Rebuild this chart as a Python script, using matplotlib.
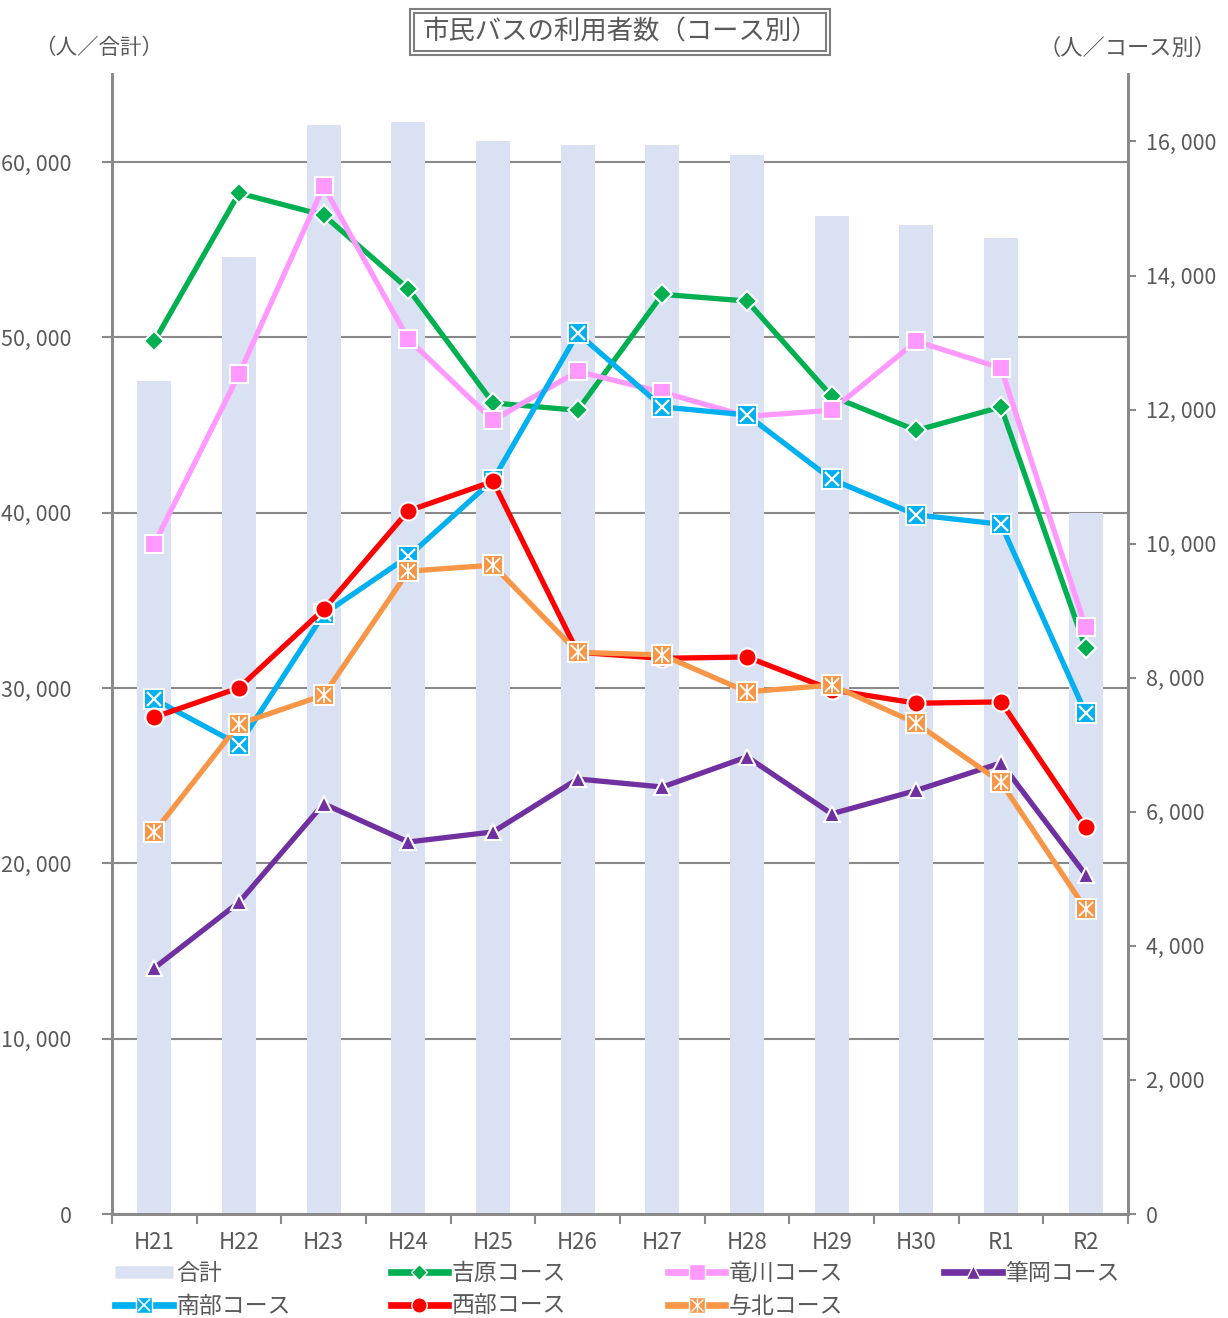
import numpy as np
import matplotlib
matplotlib.use('Agg')
import matplotlib.pyplot as plt
from matplotlib.lines import Line2D
from matplotlib.patches import Rectangle
from matplotlib.ticker import FuncFormatter, MultipleLocator
from matplotlib.legend_handler import HandlerTuple

plt.rcParams['font.family'] = ['Noto Sans CJK JP', 'DejaVu Sans']

# data
years = ['H21', 'H22', 'H23', 'H24', 'H25', 'H26', 'H27', 'H28', 'H29', 'H30', 'R1', 'R2']
total = [47500, 54600, 62100, 62300, 61200, 61000, 61000, 60400, 56900, 56400, 55700, 40000]
yoshiwara = [13020, 15230, 14900, 13800, 12100, 11990, 13720, 13620, 12200, 11690, 12040, 8440]
tatekawa = [10000, 12530, 15330, 13050, 11840, 12570, 12260, 11900, 11990, 13020, 12620, 8750]
fudeoka = [3670, 4650, 6120, 5550, 5700, 6490, 6370, 6820, 5970, 6320, 6730, 5060]
nanbu = [7680, 7000, 8950, 9810, 10950, 13140, 12040, 11920, 10960, 10430, 10290, 7470]
seibu = [7410, 7850, 9020, 10490, 10930, 8380, 8290, 8310, 7820, 7620, 7640, 5770]
yohoku = [5700, 7310, 7740, 9590, 9680, 8380, 8340, 7790, 7890, 7320, 6440, 4550]

gray = '#898989'
txt = '#595959'
bar_color = '#D9E1F2'

fig = plt.figure(figsize=(12.28, 13.18), dpi=100)
ax = fig.add_axes([0.0912, 0.0789, 0.8274, 0.8646])
ax2 = ax.twinx()

x = np.arange(len(years))
ax.bar(x, total, width=0.4, color=bar_color, zorder=2)
ax.set_xlim(-0.5, len(years) - 0.5)
ax.set_ylim(0, 65000)
ax2.set_ylim(0, 17000)

ax.yaxis.set_major_locator(MultipleLocator(10000))
fmt = FuncFormatter(lambda v, p: '{:,}'.format(int(v)).replace(',', ', '))
ax.yaxis.set_major_formatter(fmt)
ax2.yaxis.set_major_formatter(fmt)
ax2.set_yticks(np.arange(0, 16001, 2000))

ax.grid(axis='y', color=gray, lw=1.5, zorder=0)
ax.set_axisbelow(True)

ax.set_xticks(x)
ax.set_xticklabels(years)
ax.set_xticks(np.arange(-0.5, len(years)), minor=True)
ax.tick_params(axis='x', which='major', length=0, pad=12, labelsize=16, labelcolor=txt)
ax.tick_params(axis='x', which='minor', length=7, width=1.5, color=gray)
ax.tick_params(axis='y', length=7, width=1.5, color=gray, labelsize=15.5, labelcolor=txt, pad=22)
ax2.tick_params(axis='y', length=6, width=1.5, color=gray, labelsize=15.5, labelcolor=txt, pad=7)

for a in (ax, ax2):
    a.spines['top'].set_visible(False)
    for s in ('left', 'right', 'bottom'):
        a.spines[s].set_color(gray)
        a.spines[s].set_linewidth(2)

lw = 3.8
series = [
    ('吉原コース', yoshiwara, '#00B050', 'D', 10),
    ('竜川コース', tatekawa, '#FF99FF', 's', 13),
    ('筆岡コース', fudeoka, '#7030A0', '^', 12),
    ('南部コース', nanbu, '#00B0F0', 's', 14),
    ('西部コース', seibu, '#FF0000', 'o', 13),
    ('与北コース', yohoku, '#F79646', 's', 14),
]
handles = {}
for i, (name, vals, c, m, ms) in enumerate(series):
    z = 3 + i * 2
    ax2.plot(x, vals, color=c, lw=lw, marker=m, ms=ms, mfc=c, mec='white', mew=1.5, zorder=z)
    h = Line2D([], [], color=c, lw=lw + 1, marker=m, ms=ms * 0.85, mfc=c, mec='white', mew=1)
    if name == '南部コース':
        ax2.plot(x, vals, ls='none', marker='x', ms=ms * 0.75, mec='white', mew=1.6, zorder=z + 1)
        h = (h, Line2D([], [], ls='none', marker='x', ms=ms * 0.62, mec='white', mew=1.2))
    if name == '与北コース':
        ax2.plot(x, vals, ls='none', marker='x', ms=ms * 0.7, mec='white', mew=1.3, zorder=z + 1)
        ax2.plot(x, vals, ls='none', marker='|', ms=ms * 0.85, mec='white', mew=1.3, zorder=z + 1)
        h = (h, Line2D([], [], ls='none', marker='x', ms=ms * 0.58, mec='white', mew=1),
             Line2D([], [], ls='none', marker='|', ms=ms * 0.7, mec='white', mew=1))
    handles[name] = h
handles['合計'] = Line2D([], [], color=bar_color, lw=9, solid_capstyle='butt')

# legend in four columns
cols = [
    (['合計', '南部コース'], 0.094),
    (['吉原コース', '西部コース'], 0.318),
    (['竜川コース', '与北コース'], 0.544),
    (['筆岡コース'], 0.769),
]
for names, xpos in cols:
    leg = fig.legend([handles[n] for n in names], names, loc='upper left',
                     bbox_to_anchor=(xpos, 0.0425), frameon=False, fontsize=16.5,
                     handlelength=2.5, handletextpad=0.15, labelspacing=0.42,
                     borderaxespad=0, borderpad=0,
                     handler_map={tuple: HandlerTuple(ndivide=1)})
    for t in leg.get_texts():
        t.set_color(txt)

# title with double frame
fig.text(0.505, 0.9755, '市民バスの利用者数（コース別）', ha='center', va='center',
         fontsize=19, color=txt)
W, H = 1228, 1318
for (x0, y0, x1, y1) in [(410, 9, 830, 55), (414, 13, 826, 51)]:
    fig.patches.append(Rectangle((x0 / W, 1 - y1 / H), (x1 - x0) / W, (y1 - y0) / H,
                                 transform=fig.transFigure, fill=False,
                                 ec='#7F7F7F', lw=1.5))

fig.text(0.080, 0.9635, '（人／合計）', ha='center', va='center', fontsize=15.5, color=txt)
fig.text(0.918, 0.9635, '（人／コース別）', ha='center', va='center', fontsize=16, color=txt)

fig.savefig('out.png', dpi=100)
